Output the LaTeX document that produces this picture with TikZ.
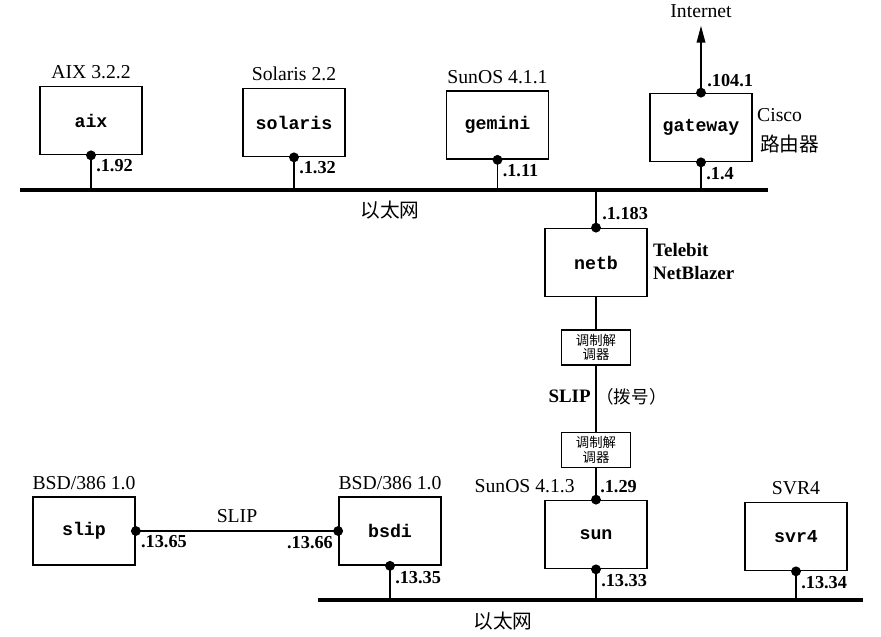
\documentclass[tikz,border=0pt]{standalone}
\usepackage{fontspec}
\setmainfont{Liberation Serif}
\setmonofont{Liberation Mono}
\newfontfamily\cjk{Noto Sans CJK SC}
\usetikzlibrary{arrows.meta, positioning, calc}

\tikzset{
  host/.style={draw, line width=1.2pt, minimum width=2.55cm, minimum height=1.7cm,
    font=\fontsize{13}{15}\selectfont\ttfamily\bfseries},
  modem/.style={draw, line width=1pt, minimum width=1.72cm, minimum height=0.87cm,
    inner sep=1pt, align=center, font=\fontsize{9.5}{10.5}\selectfont\cjk},
  os/.style={font=\fontsize{14}{16}\selectfont, inner sep=0pt},
  vendor/.style={font=\fontsize{13.5}{16.3}\selectfont\bfseries, inner sep=0pt, align=left},
  addr/.style={font=\fontsize{13}{15}\selectfont\bfseries, inner sep=0pt},
  cjklabel/.style={font=\fontsize{14}{16}\selectfont\cjk, inner sep=0pt},
  ether/.style={line width=3.5pt},
  tap/.style={line width=1pt},
}

\begin{document}
\begin{tikzpicture}[x=0.025cm, y=-0.025cm]
  \useasboundingbox (0,0) rectangle (881,637);

  % --- upper ethernet -------------------------------------------------------
  \coordinate (upL) at (20,190);
  \coordinate (upR) at (768,190);
  \draw[ether] (upL) -- (upR);
  \node[cjklabel] (upnet) at (390,210) {以太网};

  \node[host] (aix)     at (91,120.5)  {aix};
  \node[host] (solaris) at (294,122.5) {solaris};
  \node[host] (gemini)  at (497.5,125) {gemini};
  \node[host] (gateway) at (701,127.5) {gateway};

  \node[os, anchor=base] (aix-os)     at ($(aix.north)+(0,-7)$)     {AIX 3.2.2};
  \node[os, anchor=base] (solaris-os) at ($(solaris.north)+(0,-7)$) {Solaris 2.2};
  \node[os, anchor=base] (gemini-os)  at ($(gemini.north)+(0,-7)$)  {SunOS 4.1.1};

  \draw[tap] (aix.south) -- (aix.south |- upL);
  \draw[tap] (solaris.south) -- (solaris.south |- upL);
  \draw[tap] (gemini.south) -- (gemini.south |- upL);
  \draw[tap, line width=1.3pt] (gateway.south) -- (gateway.south |- upL);
  \fill (aix.south) circle[radius=3.5pt];
  \fill (solaris.south) circle[radius=3.5pt];
  \fill (gemini.south) circle[radius=3.5pt];
  \fill (gateway.south) circle[radius=3.5pt];
  \fill (gateway.north) circle[radius=3.5pt];

  \node[addr, anchor=north west] (aix-ip)     at ($(aix.south)+(5,4)$)     {.1.92};
  \node[addr, anchor=north west] (solaris-ip) at ($(solaris.south)+(5,4)$) {.1.32};
  \node[addr, anchor=north west] (gemini-ip)  at ($(gemini.south)+(5,4)$)  {.1.11};
  \node[addr, anchor=north west] (gw-lan)     at ($(gateway.south)+(5,5)$) {.1.4};
  \node[addr, anchor=base west]  (gw-wan)     at ($(gateway.north)+(6,-6)$) {.104.1};

  % gateway to the outside
  \coordinate (inet) at ($(gateway.north)+(0,-67)$);
  \draw[line width=1.4pt, -{Triangle[length=12pt,width=6pt]}] (gateway.north) -- (inet);
  \node[os, anchor=base] (internet) at ($(inet)+(0,-8)$) {Internet};
  \node[os, anchor=base west] (cisco) at ($(gateway.east)+(4,-6)$) {Cisco};
  \node[cjklabel, anchor=west] (router) at ($(gateway.east)+(7,17)$) {路由器};

  % --- dial-up link ---------------------------------------------------------
  \node[host] (netb) at (596,262.5) {netb};
  \node[modem] (modemA) at (596,347.5) {调制解\\调器};
  \node[modem] (modemB) at (596,450) {调制解\\调器};
  \node[host] (sun) at (596,534.5) {sun};

  \draw[tap, line width=1.3pt] (netb.north |- upL) -- (netb.north);
  \fill (netb.north) circle[radius=3.5pt];
  \node[addr, anchor=base west] (netb-ip) at ($(netb.north)+(6,-8)$) {.1.183};
  \node[vendor, anchor=north west] (netb-kind) at ($(netb.north east)+(5,15)$) {Telebit\\NetBlazer};

  \draw[tap, line width=1.3pt] (netb.south) -- (modemA.north);
  \draw[tap, line width=1.3pt] (modemA.south) -- (modemB.north);
  \draw[tap, line width=1.3pt] (modemB.south) -- (sun.north);
  \coordinate (dial) at ($(modemA.south)!0.5!(modemB.north)$);
  \node[vendor, anchor=east] (dial-slip) at ($(dial)+(-5,-2)$) {SLIP};
  \node[cjklabel, anchor=west, font=\fontsize{12.5}{14}\selectfont\cjk] (dial-note)
    at ($(dial)+(0,-2)$) {（拨号）};

  % --- lower ethernet -------------------------------------------------------
  \coordinate (loL) at (318,600);
  \coordinate (loR) at (863,600);
  \draw[ether] (loL) -- (loR);
  \node[cjklabel] (lonet) at (503,621) {以太网};

  \node[host] (slip) at (84,531)    {slip};
  \node[host] (bsdi) at (390,531)   {bsdi};
  \node[host] (svr4) at (796,536.5) {svr4};

  \node[os, anchor=base] (slip-os) at ($(slip.north)+(0,-7)$) {BSD/386 1.0};
  \node[os, anchor=base] (bsdi-os) at ($(bsdi.north)+(0,-7)$) {BSD/386 1.0};
  \node[os, anchor=base] (svr4-os) at ($(svr4.north)+(0,-7)$) {SVR4};
  \node[os, anchor=base east] (sun-os) at ($(sun.north)+(-21,-7)$) {SunOS 4.1.3};

  \draw[tap] (slip.east) -- (bsdi.west);
  \node[os, anchor=base] (slip-link) at ($(slip.east)!0.5!(bsdi.west)+(0,-9)$) {SLIP};
  \draw[tap] (bsdi.south) -- (bsdi.south |- loL);
  \draw[tap] (sun.south) -- (sun.south |- loL);
  \draw[tap] (svr4.south) -- (svr4.south |- loL);
  \fill (slip.east) circle[radius=3.5pt];
  \fill (bsdi.west) circle[radius=3.5pt];
  \fill (bsdi.south) circle[radius=3.5pt];
  \fill (sun.north) circle[radius=3.5pt];
  \fill (sun.south) circle[radius=3.5pt];
  \fill (svr4.south) circle[radius=3.5pt];

  \node[addr, anchor=north west] (slip-ip)  at ($(slip.east)+(5,4)$)   {.13.65};
  \node[addr, anchor=north east] (bsdi-sl)  at ($(bsdi.west)+(-5,5)$)  {.13.66};
  \node[addr, anchor=north west] (bsdi-ip)  at ($(bsdi.south)+(5,5)$)  {.13.35};
  \node[addr, anchor=base west]  (sun-sl)   at ($(sun.north)+(4,-7)$)  {.1.29};
  \node[addr, anchor=north west] (sun-ip)   at ($(sun.south)+(5,5)$)   {.13.33};
  \node[addr, anchor=north west] (svr4-ip)  at ($(svr4.south)+(5,5)$)  {.13.34};
\end{tikzpicture}
\end{document}
